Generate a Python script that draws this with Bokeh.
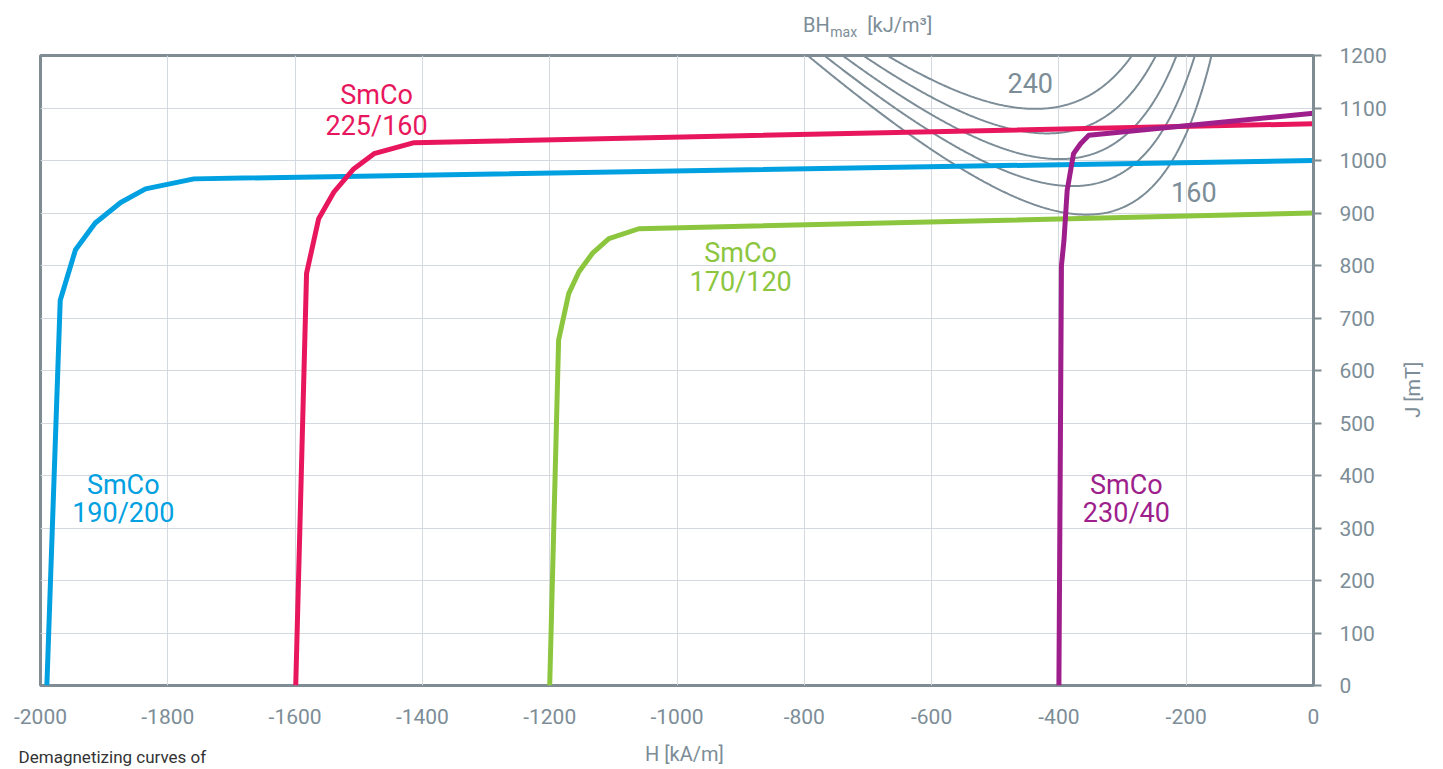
import numpy as np
from bokeh.plotting import figure
from bokeh.models import Range1d, ColumnDataSource, FixedTicker, LinearAxis
from bokeh.core.properties import value
from bokeh.embed import file_html
from bokeh.resources import INLINE

# ---------------- data ----------------
H_TICKS = [-2000, -1800, -1600, -1400, -1200, -1000, -800, -600, -400, -200, 0]
J_TICKS = [0, 100, 200, 300, 400, 500, 600, 700, 800, 900, 1000, 1100, 1200]

# demagnetizing curves J(H): H in kA/m, J in mT
H_190_200 = [-1990, -1969, -1945, -1914, -1874, -1835, -1759, 0]
J_190_200 = [0, 734, 830, 881, 920, 946, 965, 1000]

H_225_160 = [-1599, -1582, -1563, -1539, -1508, -1476, -1413, 0]
J_225_160 = [0, 785, 889, 940, 984, 1013, 1034, 1070]

H_170_120 = [-1200, -1186, -1170, -1154, -1133, -1107, -1060, 0]
J_170_120 = [0, 658, 747, 788, 823, 851, 870, 900]

H_230_40 = [-400, -396, -392, -387, -377, -366, -353, 0]
J_230_40 = [0, 800, 848, 943, 1013, 1032, 1048, 1090]

# iso-lines of constant energy product BH_max [kJ/m^3]
BH_LEVELS = [160, 180, 200, 220, 240]

SERIES = [
    ("SmCo", "190/200", H_190_200, J_190_200, "#00a0e1"),
    ("SmCo", "225/160", H_225_160, J_225_160, "#e8175d"),
    ("SmCo", "170/120", H_170_120, J_170_120, "#8cc63f"),
    ("SmCo", "230/40", H_230_40, J_230_40, "#9e1f8c"),
]

# label anchor (H, J of first line, J of second line)
LABEL_POS = [
    (-1870, 382, 329),
    (-1472, 1124, 1066),
    (-900, 823, 768),
    (-294, 382, 329),
]

# texts outside the frame, placed as tick labels of extra axes
TOP_MAIN = {-781: "BH", -650: "[kJ/m³]"}   # H positions
TOP_SUB = {-738: "max"}                     # H position
NOTE = {-1887: "Demagnetizing curves of"}   # H position
J_TITLE = {510: "J [mT]"}                   # J position (start of text)

GRAY = "#7c8d97"
AXIS_GRAY = "#7f8c94"
GRID = "#d3d9de"
FONT = "Roboto"
NBSP = "\u00a0"

p = figure(width=1443, height=769, output_backend="svg", toolbar_location=None,
           x_range=Range1d(-2000, 0), y_range=Range1d(0, 1200),
           y_axis_location="right", min_border_left=40, min_border_right=130,
           min_border_top=55, min_border_bottom=83)
p.background_fill_color = "white"
p.border_fill_color = "white"
p.outline_line_color = AXIS_GRAY
p.outline_line_width = 3

# grid
p.xgrid.ticker = FixedTicker(ticks=H_TICKS)
p.ygrid.ticker = FixedTicker(ticks=J_TICKS)
p.xgrid.grid_line_color = GRID
p.ygrid.grid_line_color = GRID
p.xgrid.grid_line_width = 1
p.ygrid.grid_line_width = 1


def text_axis(axis, ticks_dict, size, color, standoff):
    axis.ticker = FixedTicker(ticks=list(ticks_dict.keys()))
    axis.major_label_overrides = dict(ticks_dict)
    axis.axis_line_color = None
    axis.major_tick_line_color = None
    axis.minor_tick_line_color = None
    axis.major_tick_out = 0
    axis.major_tick_in = 0
    axis.major_label_text_font = FONT
    axis.major_label_text_font_size = size
    axis.major_label_text_color = color
    axis.major_label_standoff = standoff


# x axis
xa = p.xaxis[0]
xa.ticker = FixedTicker(ticks=H_TICKS)
xa.major_label_overrides = {t: str(t) for t in H_TICKS}
xa.axis_line_color = None
xa.major_tick_line_color = None
xa.minor_tick_line_color = None
xa.major_label_text_font = FONT
xa.major_label_text_font_size = "21px"
xa.major_label_text_color = GRAY
xa.major_label_standoff = 17
xa.axis_label = NBSP * 3 + "H [kA/m]"
xa.axis_label_text_font = FONT
xa.axis_label_text_font_size = "20px"
xa.axis_label_text_font_style = "normal"
xa.axis_label_text_color = GRAY
xa.axis_label_standoff = 15

# note below the x axis
note_axis = LinearAxis()
text_axis(note_axis, NOTE, "17px", "#333333", -22)
p.add_layout(note_axis, "below")

# BH_max header above the frame
sub_axis = LinearAxis()
text_axis(sub_axis, TOP_SUB, "14px", GRAY, 16)
p.add_layout(sub_axis, "above")
main_axis = LinearAxis()
text_axis(main_axis, TOP_MAIN, "20px", GRAY, -16)
p.add_layout(main_axis, "above")

# y axis (right)
ya = p.yaxis[0]
ya.ticker = FixedTicker(ticks=J_TICKS)
ya.major_label_overrides = {t: str(t) for t in J_TICKS}
ya.axis_line_color = AXIS_GRAY
ya.axis_line_width = 3
ya.major_tick_line_color = AXIS_GRAY
ya.major_tick_line_width = 2
ya.major_tick_out = 8
ya.major_tick_in = 0
ya.minor_tick_line_color = None
ya.major_label_text_font = FONT
ya.major_label_text_font_size = "21px"
ya.major_label_text_color = GRAY
ya.major_label_standoff = 18
ya.major_label_text_align = "left"

# J axis title, rotated to read bottom-to-top
j_axis = LinearAxis()
text_axis(j_axis, J_TITLE, "20px", GRAY, 23)
j_axis.major_label_orientation = -3 * np.pi / 2
p.add_layout(j_axis, "right")

# BH_max iso-curves: J = 1000*BH/|H| + mu0*|H| (mT, kA/m)
MU0_K = 4e-7 * np.pi * 1e6
hh = np.linspace(-1000, -60, 600)
for c in BH_LEVELS:
    jj = 1000.0 * c / (-hh) - MU0_K * hh
    p.line(hh, jj, line_color=GRAY, line_width=2)

# demagnetizing curves
for name, grade, hs, js, col in SERIES:
    p.line(hs, js, line_color=col, line_width=5, line_join="round")

# series labels
tx, ty, tt, tc = [], [], [], []
for (name, grade, hs, js, col), (lx, ly1, ly2) in zip(SERIES, LABEL_POS):
    tx += [lx, lx]
    ty += [ly1, ly2]
    tt += [name, grade]
    tc += [col, col]
src = ColumnDataSource(dict(x=tx, y=ty, t=tt, c=tc))
p.text(x="x", y="y", text="t", text_color="c", source=src,
       text_font=value(FONT), text_font_size="27px",
       text_align="center", text_baseline="middle")

# BH level labels
BH_LABELS = ["240", "160"]
BH_LABEL_H = [-445, -188]
BH_LABEL_J = [1147, 940]
p.text(x=BH_LABEL_H, y=BH_LABEL_J, text=BH_LABELS, text_color=GRAY,
       text_font=value(FONT), text_font_size="27px",
       text_align="center", text_baseline="middle")

open("out.html", "w").write(file_html(p, INLINE))
